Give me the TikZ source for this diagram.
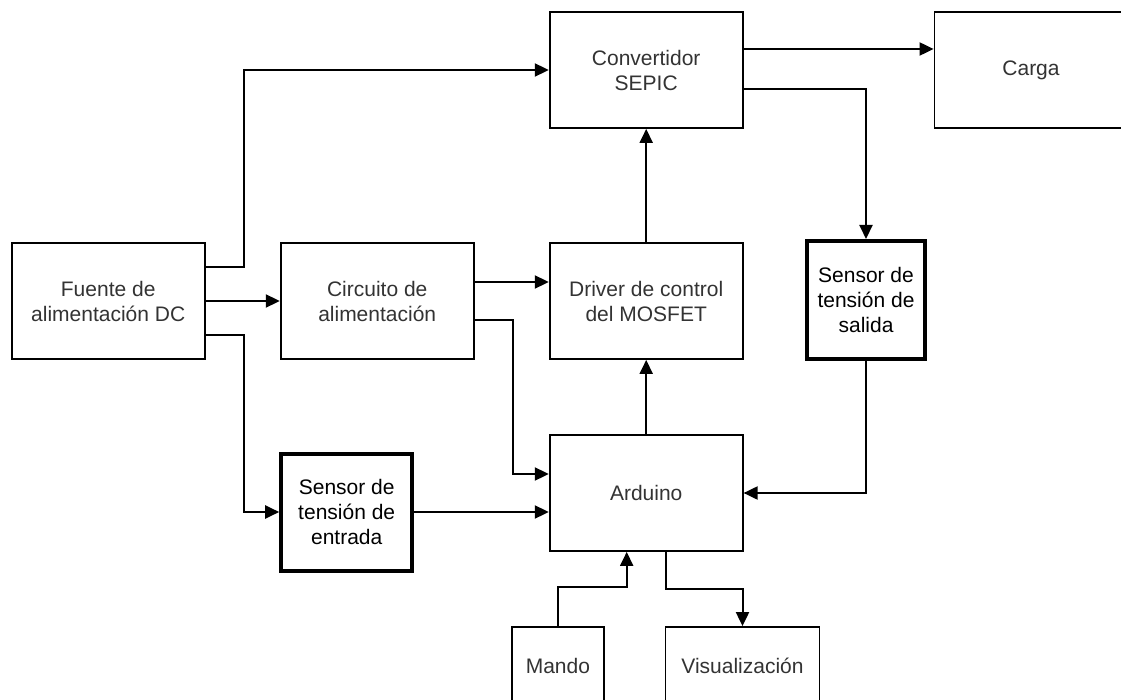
\documentclass[tikz,border=0pt]{standalone}
\usepackage{fontspec}
\setmainfont{Liberation Sans}
\usepackage{tikz}
\usetikzlibrary{arrows.meta, positioning}
\tikzset{
    bloque/.style={rectangle, draw=black, line width=1.8pt, fill=white, text=black!80, align=center, inner sep=0pt, font=\fontsize{21}{25}\selectfont, minimum width=#1, minimum height=116pt},
    bloque/.default=193pt,
    sensorbox/.style={bloque=#1, line width=4pt, text=black},
    flecha/.style={-{Triangle[length=14pt, width=13pt]}, line width=2pt}
}

\begin{document}
\begin{tikzpicture}[x=1pt, y=-1pt]
            % Canvas
            \useasboundingbox (0,0) rectangle (1121,700);
            \fill[white] (0,0) rectangle (1121,700);
            \clip (0,0) rectangle (1121,700);

            % Blocks
            \node[bloque] (fuente) at (108.2, 301) {Fuente de\\alimentación DC};
            \node[bloque] (circuito) at (377.2, 301) {Circuito de\\alimentación};
            \node[bloque] (sepic) at (646.2, 70) {Convertidor\\SEPIC};
            \node[bloque] (carga) at (1031, 70) {Carga};
            \node[bloque] (driver) at (646.2, 301) {Driver de control\\del MOSFET};
            \node[sensorbox=118pt, minimum height=118pt] (sensal) at (866, 300) {Sensor de\\tensión de\\salida};
            \node[bloque] (arduino) at (646.2, 493) {Arduino};
            \node[sensorbox=131pt, minimum height=117pt] (senent) at (346.7, 512) {Sensor de\\tensión de\\entrada};
            \node[bloque=92pt, minimum height=78pt] (mando) at (557.9, 666) {Mando};
            \node[bloque=154pt, minimum height=78pt] (visual) at (742.5, 666) {Visualización};

            % Power path
            \draw[flecha] ([yshift=34pt]fuente.east) -- ++(38pt,0) |- (sepic.west);
            \draw[flecha] (fuente) -- (circuito);
            \draw[flecha] ([yshift=-34pt]fuente.east) -- ++(38pt,0) |- (senent.west);
            \draw[flecha] ([yshift=19pt]circuito.east) -- ([yshift=19pt]driver.west);
            \draw[flecha] ([yshift=-19pt]circuito.east) -- ++(38pt,0) |- ([yshift=19pt]arduino.west);
            \draw[flecha] ([yshift=21pt]sepic.east) -- ([yshift=21pt]carga.west);

            % Control and measurement
            \draw[flecha] (driver) -- (sepic);
            \draw[flecha] (arduino) -- (driver);
            \draw[flecha] ([yshift=-19pt]sepic.east) -| (sensal.north);
            \draw[flecha] (sensal.south) |- (arduino.east);
            \draw[flecha] (senent.east) -- (senent.east -| arduino.west);

            % User interface
            \draw[flecha] (mando.north) -- ++(0,39pt) -| ([xshift=-19.5pt]arduino.south);
            \draw[flecha] ([xshift=19.5pt]arduino.south) -- ++(0,-37pt) -| (visual.north);
\end{tikzpicture}
\end{document}
